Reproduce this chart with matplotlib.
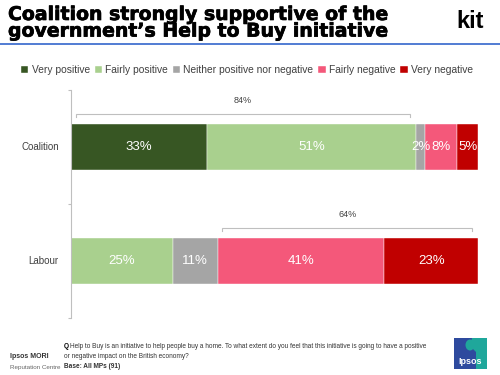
import matplotlib
matplotlib.use("Agg")
import matplotlib.pyplot as plt
from matplotlib.patches import Rectangle, Polygon, Ellipse
import matplotlib.patheffects as pe
import numpy as np

plt.rcParams['font.family'] = ['Liberation Sans', 'DejaVu Sans']

categories = ["Coalition", "Labour"]
series = ["Very positive", "Fairly positive", "Neither positive nor negative",
          "Fairly negative", "Very negative"]
values = {
    "Very positive": [33, 0],
    "Fairly positive": [51, 25],
    "Neither positive nor negative": [2, 11],
    "Fairly negative": [8, 41],
    "Very negative": [5, 23],
}
colors = ["#375623", "#A9D08E", "#A5A5A5", "#F4587A", "#C00000"]
net_labels = ["84%", "64%"]
net_groups = [["Very positive", "Fairly positive"], ["Fairly negative", "Very negative"]]

fig = plt.figure(figsize=(5, 3.75), dpi=100)
ax = fig.add_axes([71/500, 1-318/375, (478-71)/500, (318-90)/375])

vals = np.array([values[s] for s in series], dtype=float)
totals = vals.sum(axis=0)
norm = vals / totals * 100
y = np.arange(len(categories))
left = np.zeros(len(categories))
for i, s in enumerate(series):
    ax.barh(y, norm[i], left=left, height=0.4, color=colors[i], label=s,
            edgecolor='white', linewidth=0.3)
    for j in range(len(categories)):
        if vals[i, j] > 0:
            ax.text(left[j] + norm[i, j]/2, y[j], f"{int(vals[i, j])}%",
                    ha='center', va='center', color='white', fontsize=9.5)
    left += norm[i]

# net brackets
for j, grp in enumerate(net_groups):
    idx = [series.index(g) for g in grp]
    start = norm[:idx[0], j].sum()
    end = norm[:idx[-1]+1, j].sum()
    x0, x1 = start + 1.2, end - 1.5
    yb = y[j] - 0.29
    ax.plot([x0, x0, x1, x1], [yb + 0.03, yb, yb, yb + 0.03], color='#BFBFBF', lw=0.8,
            solid_joinstyle='miter')
    ax.text((x0 + x1)/2, y[j] - 0.41, net_labels[j], ha='center', va='center',
            fontsize=6.5, color='#404040')

ax.set_xlim(0, 100)
ax.set_ylim(1.5, -0.5)
ax.set_yticks([-0.5, 0.5, 1.5])
ax.set_yticklabels([])
ax.tick_params(axis='y', length=2, color='#BFBFBF')
for j, c in enumerate(categories):
    ax.text(-3, y[j], c, ha='right', va='center', fontsize=7, color='#404040')
ax.set_xticks([])
for sp in ['top', 'right', 'bottom']:
    ax.spines[sp].set_visible(False)
ax.spines['left'].set_color('#BFBFBF')
ax.spines['left'].set_linewidth(0.8)

leg = fig.legend(loc='center', bbox_to_anchor=(247/500, 1-70/375), ncol=5, frameon=False,
                 fontsize=7.4, handlelength=0.7, handleheight=0.7, handletextpad=0.3,
                 columnspacing=0.5, labelcolor='#404040')

# title (single two-line text)
heavy = [pe.withStroke(linewidth=0.5, foreground='black')]
fig.text(8/500, 1-5/375, "Coalition strongly supportive of the\ngovernment\u2019s Help to Buy initiative",
         fontsize=13.6, fontweight='bold', va='top', ha='left', family='DejaVu Sans',
         linespacing=0.84, path_effects=heavy)
fig.text(470/500, 1-22/375, "kit", fontsize=17, va='center', ha='center',
         family=['Liberation Sans Narrow', 'Liberation Sans'], fontweight='bold')
fig.add_artist(plt.Line2D([0, 1], [1-43.5/375, 1-43.5/375], color='#3366CC', lw=1.2))

# footer
fig.text(10/500, 1-357/375, "Ipsos MORI", fontsize=5, fontweight='bold', va='center', color='#333333')
fig.text(10/500, 1-367/375, "Reputation Centre", fontsize=4.5, va='center', color='#666666')
fig.text(64/500, 1-346/375, "Q", fontsize=4.7, fontweight='bold', va='center')
fig.text(70/500, 1-346/375,
         "Help to Buy is an initiative to help people buy a home. To what extent do you feel that this initiative is going to have a positive",
         fontsize=4.7, va='center', color='#333333')
fig.text(64/500, 1-356/375, "or negative impact on the British economy?", fontsize=4.7, va='center', color='#333333')
fig.text(64/500, 1-367/375, "Base: All MPs (91)", fontsize=4.7, fontweight='bold', va='center', color='#333333')
# Ipsos logo
fig.add_artist(Rectangle((454/500, 1-369/375), 33/500, 31/375, transform=fig.transFigure,
                         facecolor='#2E4A9E', edgecolor='none'))
fig.add_artist(Polygon([(472/500, 1-338/375), (487/500, 1-338/375), (487/500, 1-369/375),
                        (476/500, 1-369/375), (476/500, 1-352/375), (470/500, 1-346/375)],
                       closed=True, transform=fig.transFigure, facecolor='#1FA79B', edgecolor='none'))
fig.add_artist(Ellipse((470/500, 1-345/375), 9/500, 11/375, transform=fig.transFigure,
                       facecolor='#1FA79B', edgecolor='none'))
fig.text(470.5/500, 1-361/375, "Ipsos", fontsize=6.5, color='white', ha='center', va='center', fontweight='bold')

fig.savefig("out.png", dpi=100)
